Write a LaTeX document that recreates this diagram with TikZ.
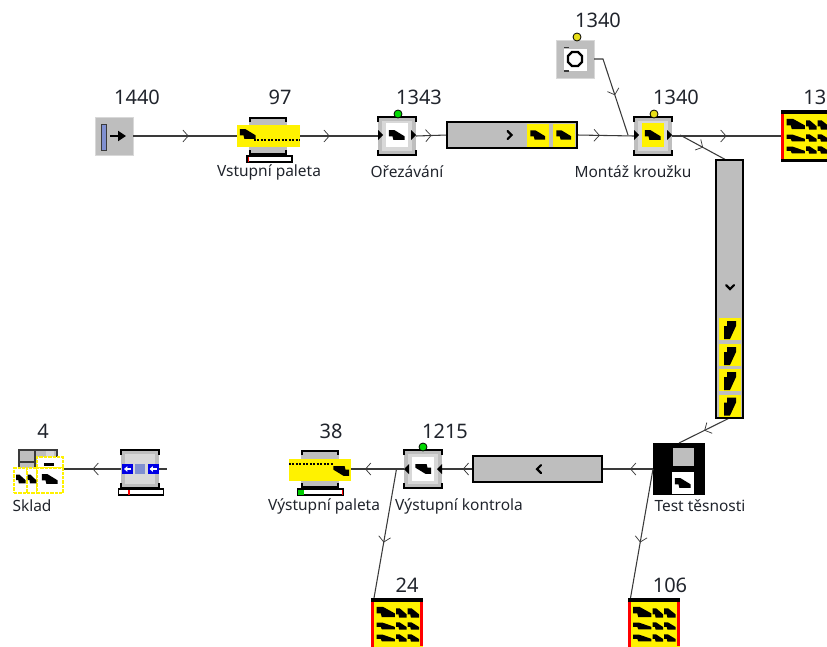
\documentclass[tikz,border=0pt]{standalone}
\usepackage{fontspec}
\setmainfont{Noto Sans}
\usetikzlibrary{arrows.meta,decorations.markings}
\definecolor{grayA}{HTML}{BEBEBE}
\definecolor{grayB}{HTML}{D8D8D8}
\definecolor{linec}{HTML}{3A3A3A}
\definecolor{txt}{HTML}{20242C}
\definecolor{peri}{HTML}{8090D0}
\tikzset{
  sq/.style={rectangle,inner sep=0pt,outer sep=0pt,minimum width=38*0.75pt,minimum height=38*0.75pt},
  srcbox/.style={sq,fill=grayA,draw=grayB,line width=0.75pt},
  machbox/.style={sq,fill=grayA},
  palbox/.style={sq,fill=grayA},
  conveyor/.style={rectangle,inner sep=0pt,outer sep=0pt,fill=grayA},
  convedge/.style={draw=black,line width=1.8pt},
  bufbox/.style={rectangle,inner sep=0pt,outer sep=0pt,fill=yellow,minimum width=52*0.75pt,minimum height=52*0.75pt,anchor=north west},
  testbox/.style={rectangle,inner sep=0pt,outer sep=0pt,fill=black,minimum width=52*0.75pt,minimum height=52*0.75pt},
  num/.style={inner sep=0pt,text=txt,font=\fontsize{15}{15}\selectfont},
  lab/.style={inner sep=0pt,text=txt,font=\fontsize{11.6}{12}\selectfont},
  flow/.style={draw=linec,line width=0.8pt,postaction={decorate},
    decoration={markings,mark=at position #1 with {\arrow{Straight Barb[length=4pt,width=9pt,line width=0.55pt]}}}},
  chev/.style={draw=black,line width=1.6pt,line cap=round},
  part/.pic={\fill[black] (-9,-5.5) -- (-3,-5.5) -- (8.5,1.5) -- (8.5,5.5) -- (-4,5.5) -- (-5,1.5) -- (-9,1.5) -- cycle;},
  vpart/.pic={\fill[black] (-3,-8) -- (6,-8) -- (6,-3) -- (0,10) -- (-6,10) -- (-6,-3) -- (-3,-3) -- cycle;},
  brackets/.pic={
    \fill[grayB] (-15,-15) rectangle (15,15);
    \draw[black,line width=1.6pt] (-19,-14) -- (-19,-19) -- (19,-19) -- (19,-14);
    \draw[black,line width=1.6pt] (-19,14) -- (-19,19) -- (19,19) -- (19,14);},
  ports/.pic={
    \fill[black] (-19,-5) -- (-14,0) -- (-19,5) -- cycle;
    \fill[black] (14,-5) -- (19,0) -- (14,5) -- cycle;},
  rports/.pic={
    \fill[black] (-14,-5) -- (-19,0) -- (-14,5) -- cycle;
    \fill[black] (19,-5) -- (14,0) -- (19,5) -- cycle;},
  palframe/.pic={
    \draw[black,line width=1.8pt] (-18,-14) -- (-18,-18) -- (18,-18) -- (18,-14);
    \draw[black,line width=1.8pt] (-18,14) -- (-18,18) -- (18,18) -- (18,14);},
  bufparts/.pic={
    \pic[xscale=1.05,yscale=.95] at (15,14) {part};
    \pic[xscale=.6,yscale=.85] at (30.5,15) {part};
    \pic[xscale=.65,yscale=.85] at (42.5,15) {part};
    \pic[xscale=1.05,yscale=.6] at (15,28) {part};
    \pic[xscale=.6,yscale=.65] at (30.5,28) {part};
    \pic[xscale=.65,yscale=.65] at (42.5,28) {part};
    \pic[xscale=1.05,yscale=.6] at (15,40) {part};
    \pic[xscale=.6,yscale=.65] at (30.5,40) {part};
    \pic[xscale=.65,yscale=.65] at (42.5,40) {part};},
  bufframe/.pic={
    \fill[black] (0,0) rectangle (52,3.5);
    \fill[black] (0,48.5) rectangle (52,52);
    \fill[red] (0,3.5) rectangle (3,48.5);},
  dot/.style={circle,draw=black,line width=0.6pt,minimum size=8*0.75pt,inner sep=0pt,outer sep=0pt},
  yelbox/.style={rectangle,fill=yellow,inner sep=0pt,outer sep=0pt},
  sbox/.style={rectangle,fill=white,draw=yellow,line width=1.3pt,dash pattern=on 2.5pt off 0.8pt,inner sep=0pt,outer sep=0pt},
}
\begin{document}
\begin{tikzpicture}[x=0.75pt,y=-0.75pt]
\useasboundingbox (0,0) rectangle (827,646);
\clip (0,0) rectangle (827,646);

% ---- nodes
\node[srcbox] (src) at (114,136) {};
\node[palbox] (palin) at (268,136) {};
\node[machbox] (orez) at (397,136) {};
\node[conveyor,minimum width=130*0.75pt,minimum height=26*0.75pt] (conv1) at (512,135) {};
\node[machbox] (mont) at (653,136) {};
\node[srcbox] (ring) at (575,59) {};
\node[bufbox] (buftop) at (781,110) {};
\node[conveyor,minimum width=27*0.75pt,minimum height=258*0.75pt] (conv2) at (729.5,289) {};
\node[testbox] (test) at (679,469) {};
\node[conveyor,minimum width=129*0.75pt,minimum height=26*0.75pt] (conv3) at (537.5,469) {};
\node[machbox] (kontr) at (423,469) {};
\node[palbox] (palout) at (320,469) {};
\node[machbox] (sink) at (140,469) {};
\node[rectangle,fill=grayA,draw=linec,line width=1pt,minimum width=38*0.75pt,minimum height=36*0.75pt,inner sep=0pt,outer sep=0pt] (sklad) at (38,468) {};
\node[bufbox] (buf24) at (371,598) {};
\node[bufbox] (buf106) at (627.5,598) {};

% ---- junctions and free ends
\coordinate (jmont) at (680,135);
\coordinate (jkontr) at (396.5,469);
\coordinate (rightend) at (167,469);

% ---- connectors
\path[flow=.48] (src.east) -- (palin.west);
\path[flow=.47] (palin.east) -- (orez.west);
\path[flow=.5] (orez.east) -- (conv1.west);
\path[flow=.4] (conv1.east) -- (mont.west);
\path[flow=.5] (mont.east) -- (buftop.west);
\path[flow=.5] (jmont) -- ([xshift=-2.5pt]conv2.north);
\path[flow=.53] (ring.east) -- +(9,0) -- (628,135);
\path[flow=.5] (conv2.south) -- (test.north);
\path[flow=.45] (test.west) -- (conv3.east);
\path[flow=.33] (conv3.west) -- (kontr.east);
\path[flow=.6] (kontr.west) -- (palout.east);
\path[flow=.57] (jkontr) -- ([xshift=2.25pt]buf24.north west);
\path[flow=.57] (test.west) -- ([xshift=2.25pt]buf106.north west);
\path[flow=.5] (sink.west) -- (64,469);
\draw[linec,line width=0.8pt] (sink.east) -- (rightend);

% ---- source 1440
\fill[peri] (101,124) rectangle (106,150);
\draw[linec,line width=0.7pt] (101,124) rectangle (106,150);
\draw[black,line width=1.8pt,-{Triangle[length=6pt,width=7.5pt]}] (110,136) -- (126,136);
\node[num] (n1440) at (137,97) {1440};

% ---- input pallet
\pic at (palin) {palframe};
\node[yelbox,minimum width=63*0.75pt,minimum height=22*0.75pt] (palinY) at (268.5,136) {};
\pic[scale=.9] at (248,134) {part};
\draw[black,line width=1.6pt,dash pattern=on 1.5pt off 1.1pt] (254,140) -- (300,140);
\node[rectangle,draw=black,fill=white,line width=.8pt,minimum width=45*0.75pt,minimum height=6*0.75pt,inner sep=0pt,outer sep=0pt] (barin) at (269.5,159) {};
\fill[red] (247.5,156.5) rectangle (249,161.5);
\node[num] (n97) at (280,97) {97};
\node[lab] (lpal) at (269,172) {Vstupní paleta};

% ---- machine: orezavani
\pic at (orez) {brackets};
\node[rectangle,fill=white,minimum width=22*0.75pt,minimum height=24*0.75pt,inner sep=0pt] (orezI) at (397,135) {};
\pic[scale=.9] at (397,135) {part};
\pic at (397,135) {ports};
\node[dot,fill=green!85!black] (dorez) at (398,114) {};
\node[num] (n1343) at (419,97) {1343};
\node[lab] (lorez) at (407,172) {Ořezávání};

% ---- conveyor 1
\node[yelbox,minimum width=22*0.75pt,minimum height=23*0.75pt] (c1a) at (538,135) {};
\node[yelbox,minimum width=22*0.75pt,minimum height=23*0.75pt] (c1b) at (564,135) {};
\pic[scale=.85] at (538,135) {part};
\pic[scale=.85] at (564,135) {part};
\draw[chev] (507.5,131) -- (511.5,135) -- (507.5,139);
\draw[convedge] (conv1.south west) rectangle (conv1.north east);

% ---- machine: montaz
\pic at (mont) {brackets};
\node[yelbox,minimum width=22*0.75pt,minimum height=24*0.75pt] (montI) at (653,135) {};
\pic[scale=.9] at (653,135) {part};
\pic at (653,135) {ports};
\node[dot,fill=yellow!90!black] (dmont) at (654,114) {};
\node[num] (n1340b) at (676,97) {1340};
\node[lab] (lmont) at (633,172) {Montáž kroužku};

% ---- ring source
\node[rectangle,fill=white,minimum width=23*0.75pt,minimum height=22*0.75pt,inner sep=0pt] (ringI) at (575,60) {};
\draw[black,line width=1.8pt,shift={(575,59)}] (-3,-7) -- (3,-7) -- (7,-3) -- (7,3) -- (3,7) -- (-3,7) -- (-7,3) -- (-7,-3) -- cycle;
\fill[linec] (564,47) rectangle (569,48);
\fill[linec] (564,70) rectangle (569,72);
\node[dot,fill=yellow!90!black] (dring) at (577,37) {};
\node[num] (n1340a) at (598,20) {1340};

% ---- top-right buffer
\pic at (buftop.north west) {bufparts};
\pic at (buftop.north west) {bufframe};
\node[num,anchor=east] (n13) at (826.5,97) {13};

% ---- vertical conveyor
\foreach \yy/\nm in {329/va,355/vb,380/vc,405.5/vd}{
  \node[yelbox,minimum width=22*0.75pt,minimum height=22*0.75pt] (\nm) at (730,\yy) {};
  \pic at (730,\yy) {vpart};
}
\draw[chev] (726,285) -- (730,289) -- (734,285);
\draw[convedge] (conv2.south west) rectangle (conv2.north east);

% ---- test
\node[rectangle,fill=grayA,minimum width=21*0.75pt,minimum height=18*0.75pt,inner sep=0pt] (testG) at (683.5,457) {};
\node[rectangle,fill=white,minimum width=22*0.75pt,minimum height=22*0.75pt,inner sep=0pt] (testW) at (683,483) {};
\pic[scale=.9] at (683,483) {part};
\node[lab] (ltest) at (700,506) {Test těsnosti};

% ---- conveyor 3
\draw[chev] (541,465) -- (537,469) -- (541,473);
\draw[convedge] (conv3.south west) rectangle (conv3.north east);

% ---- machine: kontrola
\pic at (kontr) {brackets};
\node[rectangle,fill=white,minimum width=22*0.75pt,minimum height=24*0.75pt,inner sep=0pt] (kontrI) at (423,469) {};
\pic[xscale=-.9,yscale=-.9] at (423,469) {part};
\pic at (423,469) {rports};
\node[dot,fill=green!85!black] (dkontr) at (423,447) {};
\node[num] (n1215) at (445,431) {1215};
\node[lab] (lkontr) at (459,506) {Výstupní kontrola};

% ---- output pallet
\pic at (palout) {palframe};
\node[yelbox,minimum width=62*0.75pt,minimum height=22*0.75pt] (paloutY) at (320,469.5) {};
\pic[xscale=-.9,yscale=-.9] at (341,471) {part};
\draw[black,line width=1.6pt,dash pattern=on 1.5pt off 1.1pt] (289,464) -- (334,464);
\node[rectangle,draw=black,fill=white,line width=.8pt,minimum width=45*0.75pt,minimum height=6*0.75pt,inner sep=0pt,outer sep=0pt] (barout) at (320.5,492) {};
\fill[green!80!black] (298,489.5) rectangle (303.5,494.5);
\fill[red] (341.5,489.5) rectangle (343,494.5);
\node[num] (n38) at (331,431) {38};
\node[lab] (lpalout) at (324,506) {Výstupní paleta};

% ---- lower buffers
\pic at (buf24.north west) {bufparts};
\pic at (buf24.north west) {bufframe};
\fill[red] (420,601.5) rectangle (423,646);
\node[num] (n24) at (407,585) {24};
\pic at (buf106.north west) {bufparts};
\pic at (buf106.north west) {bufframe};
\fill[red] (676.5,601.5) rectangle (679.5,646);
\node[num] (n106) at (670,585) {106};

% ---- sink machine
\pic at (sink) {brackets};
\foreach \xx/\nm in {127.5/sa,153/sb}{
  \node[rectangle,fill=blue!90!black,minimum width=11*0.75pt,minimum height=10*0.75pt,inner sep=0pt] (\nm) at (\xx,469) {};
  \draw[white,line width=1pt,-{Triangle[length=2.5pt,width=4pt]}] (\xx+3.5,469) -- (\xx-3.5,469);
}
\node[rectangle,fill=peri,minimum width=10*0.75pt,minimum height=10*0.75pt,inner sep=0pt] (sm) at (140,469) {};
\node[rectangle,draw=black,fill=white,line width=.8pt,minimum width=45*0.75pt,minimum height=6*0.75pt,inner sep=0pt,outer sep=0pt] (barsink) at (141,492) {};
\fill[red] (128,489.5) rectangle (129.5,494.5);

% ---- sklad
\draw[linec,line width=.8pt] (19,462) -- (57,462) (35,451) -- (35,468) (47,451) -- (47,468);
\node[rectangle,fill=grayB,minimum width=8*0.75pt,minimum height=6*0.75pt,inner sep=0pt] (sk0) at (50,454) {};
\node[sbox,minimum width=13*0.75pt,minimum height=25*0.75pt] (sk1) at (20.5,480.5) {};
\node[sbox,minimum width=10*0.75pt,minimum height=25*0.75pt] (sk2) at (32,480.5) {};
\node[sbox,minimum width=26*0.75pt,minimum height=11*0.75pt] (sk3) at (50,462.5) {};
\node[sbox,minimum width=26*0.75pt,minimum height=25*0.75pt] (sk4) at (50,480.5) {};
\pic[xscale=.55,yscale=.8] at (21,479) {part};
\pic[xscale=.5,yscale=.8] at (32,479) {part};
\pic[xscale=.9,yscale=.9] at (50,479) {part};
\fill[black] (44,463) rectangle (54,466);
\node[num] (n4) at (43,431) {4};
\node[lab] (lsklad) at (32,506) {Sklad};
\end{tikzpicture}
\end{document}
